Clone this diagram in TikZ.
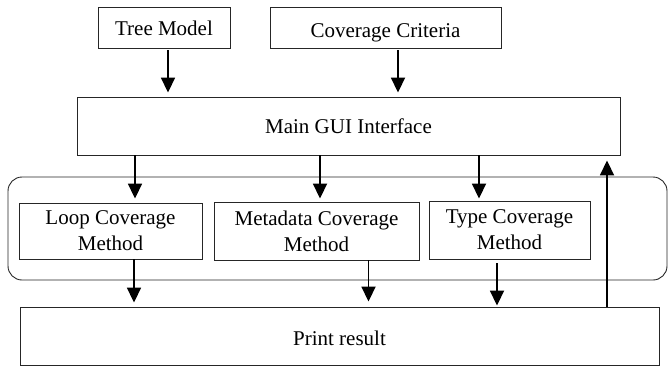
\documentclass[tikz,border=0pt]{standalone}
\usepackage{fontspec}
\setmainfont{Liberation Serif}
\usetikzlibrary{arrows.meta}

\tikzset{
  box/.style={draw=black!85, line width=0.9pt, inner sep=0pt, align=center,
              font=\fontsize{21}{26}\selectfont},
  group/.style={draw=black!85, line width=0.9pt, rounded corners=14pt, inner sep=0pt},
  arr/.style={line width=1.8pt, -{Triangle[length=15pt,width=14pt]}},
}

\begin{document}
\begin{tikzpicture}[x=1pt, y=-1pt]
  \useasboundingbox (0,0) rectangle (668,369);

  % inputs
  \node[box, minimum width=132, minimum height=41, text height=17pt, text depth=0pt]
    (tree) at (164,27.5) {Tree Model};
  \node[box, minimum width=231, minimum height=41, text height=20pt, text depth=0pt]
    (crit) at (385.5,27.5) {Coverage Criteria};

  % central interface
  \node[box, minimum width=543, minimum height=58] (main) at (348.5,126) {Main GUI Interface};

  % group of coverage methods
  \node[group, minimum width=659, minimum height=103] (grp) at (337.5,228.5) {};
  \node[box, minimum width=183, minimum height=56] (loop) at (110.5,231) {Loop Coverage\\Method};
  \node[box, minimum width=205, minimum height=58] (meta) at (316.5,231) {Metadata Coverage\\Method};
  \node[box, minimum width=161, minimum height=58] (type) at (509.5,230) {Type Coverage\\Method};

  % output
  \node[box, minimum width=639, minimum height=58, text height=18pt, text depth=0pt]
    (print) at (339.5,336) {Print result};

  % arrow anchor points
  \coordinate (t1) at ([xshift=4pt]tree.south);
  \coordinate (c1) at ([xshift=12.5pt]crit.south);
  \coordinate (m1) at ([xshift=-213.5pt]main.south);
  \coordinate (m2) at ([xshift=-28.5pt]main.south);
  \coordinate (m3) at ([xshift=130.5pt]main.south);
  \coordinate (l1) at ([xshift=23.5pt]loop.south);
  \coordinate (d1) at ([xshift=52pt]meta.south);
  \coordinate (y1) at ([xshift=-12.5pt]type.south);
  \coordinate (p1) at ([xshift=267.5pt]print.north);

  % inputs into the interface
  \draw[arr, shorten <=2pt, shorten >=4pt] (t1) -- (t1 |- main.north);
  \draw[arr, shorten <=2pt, shorten >=4pt] (c1) -- (c1 |- main.north);

  % interface to each method
  \draw[arr, shorten >=4pt] (m1) -- (m1 |- loop.north);
  \draw[arr, shorten >=3pt] (m2) -- (m2 |- meta.north);
  \draw[arr, shorten >=2pt] (m3) -- (m3 |- type.north);

  % methods to the result
  \draw[arr, shorten >=4pt] (l1) -- (l1 |- print.north);
  \draw[arr, shorten >=5pt] (d1) -- (d1 |- print.north);
  \draw[arr, shorten <=4pt, shorten >=1pt] (y1) -- (y1 |- print.north);

  % result back to the interface
  \draw[arr, shorten >=5pt] (p1) -- (p1 |- main.south);
\end{tikzpicture}
\end{document}
